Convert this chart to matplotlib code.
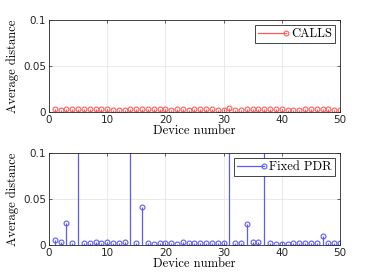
import matplotlib
matplotlib.use("Agg")
import matplotlib.pyplot as plt
from matplotlib.lines import Line2D
from matplotlib.legend_handler import HandlerBase

devices = list(range(1, 51))
calls = [0.003, 0.0025, 0.003, 0.003, 0.0035, 0.0035, 0.003, 0.003, 0.003, 0.003,
         0.0025, 0.0025, 0.0025, 0.003, 0.003, 0.003, 0.0035, 0.003, 0.003, 0.003,
         0.0025, 0.003, 0.003, 0.0025, 0.003, 0.003, 0.003, 0.003, 0.0025, 0.0025,
         0.004, 0.0025, 0.0025, 0.003, 0.003, 0.003, 0.003, 0.003, 0.003, 0.003,
         0.0025, 0.0025, 0.0025, 0.003, 0.003, 0.003, 0.003, 0.003, 0.0025, 0.0025]
fixed_pdr = [0.005, 0.003, 0.024, 0.002, 0.5, 0.002, 0.0025, 0.003, 0.0025, 0.003,
             0.002, 0.0025, 0.003, 0.5, 0.0025, 0.041, 0.002, 0.0015, 0.0025, 0.002,
             0.0025, 0.0015, 0.003, 0.0025, 0.0025, 0.0025, 0.0025, 0.0025, 0.0025, 0.0025,
             0.5, 0.002, 0.002, 0.023, 0.003, 0.0035, 0.5, 0.0025, 0.0015, 0.0015,
             0.0015, 0.002, 0.0025, 0.0025, 0.0025, 0.0025, 0.01, 0.002, 0.002, 0.0025]
series = [("CALLS", calls, "#ff5a5a"), ("Fixed PDR", fixed_pdr, "#5a5aff")]

xticks = [0, 10, 20, 30, 40, 50]
yticks = [0, 0.05, 0.1]
yticklabels = ["0", "0.05", "0.1"]


class StemHandler(HandlerBase):
    def __init__(self, color):
        super().__init__()
        self.color = color

    def create_artists(self, legend, orig, xd, yd, w, h, fontsize, trans):
        y = h / 2 - yd
        line = Line2D([-xd, -xd + w], [y, y], color=self.color, linewidth=0.9)
        mk = Line2D([-xd + w], [y], marker="o", markersize=3.5, markerfacecolor="none",
                    markeredgecolor=self.color, markeredgewidth=0.8, linestyle="none")
        line.set_transform(trans)
        mk.set_transform(trans)
        return [line, mk]


fig = plt.figure(figsize=(3.74, 2.8), dpi=100)
rects = [[0.131, 0.60, 0.778, 0.329], [0.131, 0.125, 0.778, 0.329]]
serif = "cmr10"

for rect, (name, vals, col) in zip(rects, series):
    ax = fig.add_axes(rect)
    ml, sl, bl = ax.stem(devices, vals, linefmt="-", markerfmt="o", basefmt=" ")
    plt.setp(sl, color=col, linewidth=0.9)
    plt.setp(ml, markerfacecolor="none", markeredgecolor=col, markersize=3.5, markeredgewidth=0.8)
    ax.set_xlim(0, 50)
    ax.set_ylim(0, 0.1)
    ax.set_xticks(xticks)
    ax.set_yticks(yticks)
    ax.set_yticklabels(yticklabels)
    ax.grid(True, color="#e6e6e6", linewidth=0.6)
    ax.set_axisbelow(True)
    ax.tick_params(direction="in", length=2.5, width=0.5, labelsize=7.5, colors="#262626",
                   top=True, right=True, pad=2)
    for s in ax.spines.values():
        s.set_linewidth(0.6)
        s.set_color("#262626")
    ax.set_xlabel("Device number", fontfamily=serif, fontsize=9, labelpad=0)
    ax.set_ylabel("Average distance", fontfamily=serif, fontsize=9, labelpad=3)
    proxy = Line2D([], [], color=col)
    leg = ax.legend([proxy], [name], handler_map={proxy: StemHandler(col)},
                    loc="upper right", prop={"family": serif, "size": 9}, fancybox=False,
                    framealpha=1, edgecolor="#262626", borderpad=0.25, handlelength=2.2,
                    handletextpad=0.4, borderaxespad=0.4)
    leg.get_frame().set_linewidth(0.6)

fig.savefig("out.png", dpi=100)
